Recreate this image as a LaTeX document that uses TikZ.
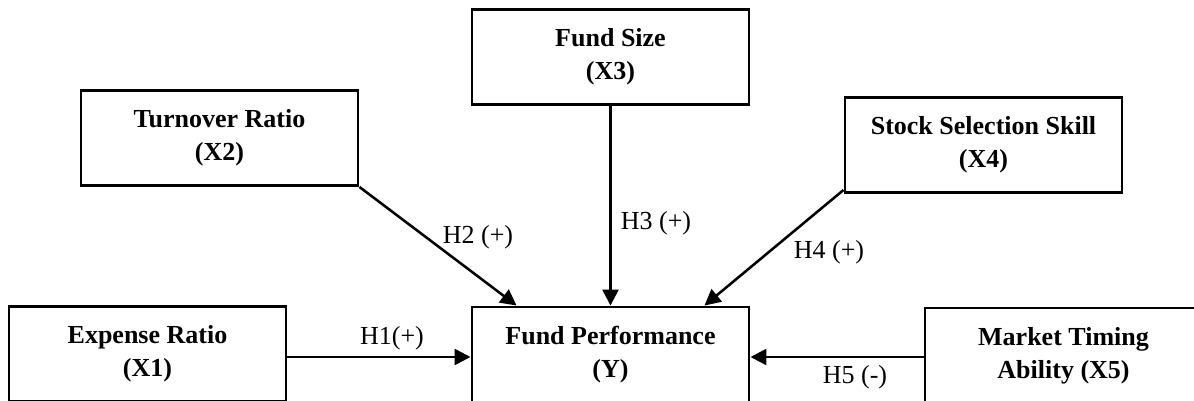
\documentclass[tikz,border=0pt]{standalone}
\usepackage{fontspec}
\setmainfont{Liberation Serif}
\usetikzlibrary{arrows.meta}
\begin{document}
\begin{tikzpicture}[x=0.75pt,y=-0.75pt,
  varbox/.style={draw,line width=2.2pt,minimum width=207.75pt,minimum height=71.25pt,inner sep=0pt,align=center,font=\fontsize{19.5}{24.75}\selectfont\bfseries},
  link/.style={line width=1.9pt,-{Triangle[length=12pt,width=12pt]}},
  hyp/.style={font=\fontsize{19.5}{24.75}\selectfont,inner sep=0pt}]
\useasboundingbox (0,0) rectangle (1194,400);
\node[varbox] (X1) at (147.5,354) {Expense Ratio\\(X1)};
\node[varbox] (Y)  at (610.5,354.5) {Fund Performance\\(Y)};
\node[varbox] (X5) at (1063.5,355.5) {Market Timing\\Ability (X5)};
\node[varbox] (X3) at (610.5,57) {Fund Size\\(X3)};
\node[varbox] (X2) at (219.5,138) {Turnover Ratio\\(X2)};
\node[varbox] (X4) at (983.5,145) {Stock Selection Skill\\(X4)};
\coordinate (h1) at (0,357);
\draw[link] (X1.east |- h1) -- (Y.west |- h1);
\draw[link] (X5.west |- h1) -- (Y.east |- h1);
\draw[link] (X2.south east) -- ([xshift=34.5pt]Y.north west);
\draw[link] (X3.south) -- (Y.north);
\draw[link] ([yshift=3pt]X4.south west) -- ([xshift=-34.5pt]Y.north east);
\node[hyp] (l1) at (392,338) {H1(+)};
\node[hyp] (l2) at (478,237) {H2 (+)};
\node[hyp] (l3) at (656,223) {H3 (+)};
\node[hyp] (l4) at (829,252) {H4 (+)};
\node[hyp] (l5) at (855,377) {H5 (-)};
\end{tikzpicture}
\end{document}
